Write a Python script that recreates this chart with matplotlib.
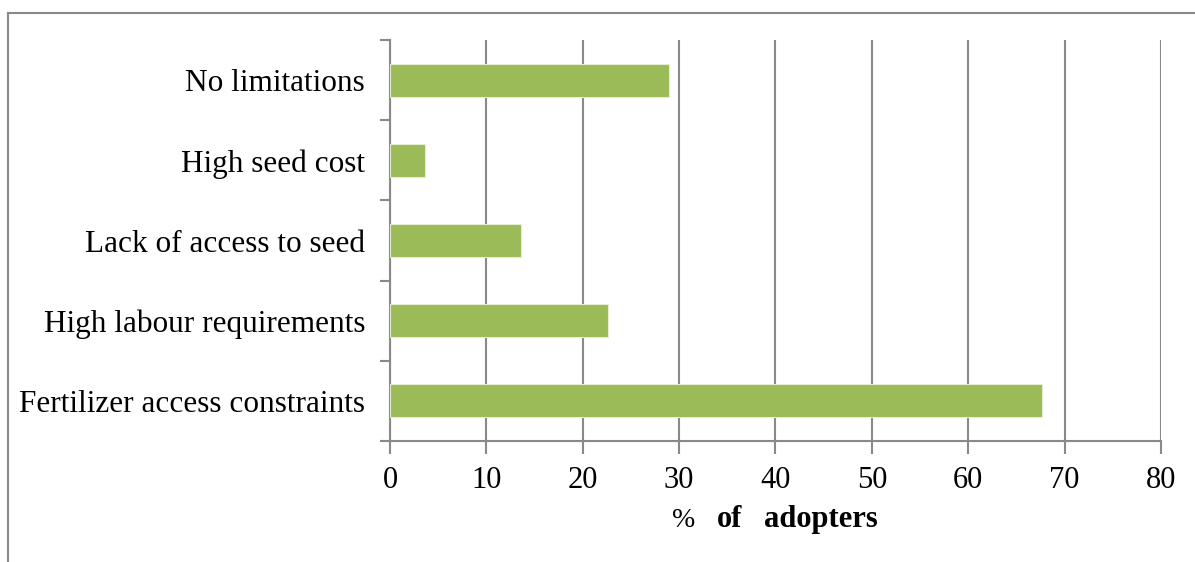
import matplotlib
matplotlib.use("Agg")
import matplotlib.pyplot as plt
from matplotlib.lines import Line2D

# data, bottom to top
categories = ["Fertilizer access constraints", "High labour requirements",
              "Lack of access to seed", "High seed cost", "No limitations"]
pct_adopters = [67.7, 22.6, 13.6, 3.6, 28.9]
x_ticks = [0, 10, 20, 30, 40, 50, 60, 70, 80]

plt.rcParams['font.family'] = ['Liberation Serif', 'DejaVu Serif']
grey = '#898989'

fig = plt.figure(figsize=(11.95, 5.62), dpi=100)
ax = fig.add_axes([0.3264, 0.2153, 0.6451, 0.7135])

ypos = range(len(categories))
ax.barh(ypos, pct_adopters, height=0.41, color='#9BBB59', edgecolor='#E4EDCF', linewidth=0.8, zorder=3)

ax.set_xlim(0, 80)
ax.set_ylim(-0.5, len(categories) - 0.5)
ax.set_xticks(x_ticks)
ax.set_xticklabels([str(t) for t in x_ticks], fontsize=22)
ax.set_yticks(list(ypos))
ax.set_yticklabels(categories, fontsize=22.5)
ax.tick_params(axis='y', length=0, pad=18)
ax.tick_params(axis='x', length=9, width=1.5, color=grey, pad=9)

# category separator ticks on y axis
for b in [i - 0.5 for i in range(len(categories) + 1)]:
    ax.plot([-0.9, 0], [b, b], color=grey, lw=1.5, clip_on=False, zorder=4)

ax.grid(axis='x', color=grey, lw=1.5, zorder=0)
for s in ['top', 'right']:
    ax.spines[s].set_visible(False)
for s in ['left', 'bottom']:
    ax.spines[s].set_color(grey)
    ax.spines[s].set_linewidth(1.5)

# x label: "%" plain, "of adopters" bold
ly = 1 - 527 / 562
fig.text(684 / 1195, ly, '%', fontsize=20, ha='center', va='baseline')
fig.text(717 / 1195, ly, 'of', fontsize=22, fontweight='bold', ha='left', va='baseline')
fig.text(764 / 1195, ly, 'adopters', fontsize=22, fontweight='bold', ha='left', va='baseline')

# outer frame (top and left visible)
fig.add_artist(Line2D([8 / 1195, 1], [1 - 13 / 562, 1 - 13 / 562], color=grey, lw=1.5))
fig.add_artist(Line2D([8 / 1195, 8 / 1195], [0, 1 - 13 / 562], color=grey, lw=1.5))

fig.savefig('out.png', dpi=100)
